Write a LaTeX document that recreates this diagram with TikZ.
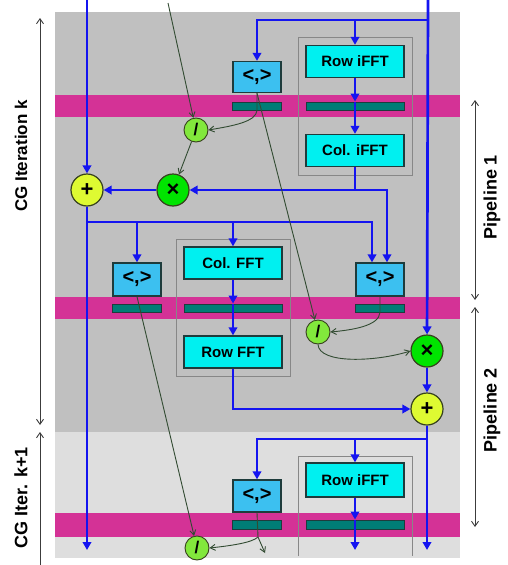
\documentclass[tikz,border=0pt]{standalone}
\usepackage{fontspec}
\setmainfont{Liberation Sans}
\usetikzlibrary{arrows.meta,calc}
\definecolor{bgdark}{RGB}{192,192,192}
\definecolor{bglight}{RGB}{222,222,222}
\definecolor{band}{RGB}{212,50,150}
\definecolor{fftfill}{RGB}{0,240,240}
\definecolor{dotfill}{RGB}{60,192,240}
\definecolor{barfill}{RGB}{0,125,118}
\definecolor{boxedge}{RGB}{30,60,60}
\definecolor{mulfill}{RGB}{0,228,0}
\definecolor{divfill}{RGB}{130,232,60}
\definecolor{addfill}{RGB}{222,250,50}
\definecolor{circedge}{RGB}{55,65,30}
\definecolor{flow}{RGB}{20,20,240}
\definecolor{thin}{RGB}{50,75,50}
\definecolor{dim}{RGB}{60,60,60}
\definecolor{encl}{RGB}{135,135,135}
\tikzset{
  fftbox/.style={rectangle,fill=fftfill,draw=boxedge,line width=1.3pt,minimum width=98pt,minimum height=32pt,inner sep=0pt,font=\bfseries\fontsize{15}{17}\selectfont},
  dotbox/.style={rectangle,fill=dotfill,draw=boxedge,line width=1.3pt,minimum width=48pt,minimum height=31pt,inner sep=0pt,font=\bfseries\fontsize{20}{20}\selectfont},
  regbar/.style={rectangle,fill=barfill,draw=boxedge,line width=1pt,minimum height=8pt,inner sep=0pt},
  opcirc/.style={circle,draw=circedge,line width=1.2pt,inner sep=0pt,minimum size=32pt,font=\bfseries\fontsize{22}{22}\selectfont},
  divcirc/.style={circle,draw=circedge,line width=0.9pt,fill=divfill,inner sep=0pt,minimum size=24pt,font=\bfseries\fontsize{17}{17}\selectfont},
  bl/.style={draw=flow,line width=2.7pt,-{Triangle[length=8pt,width=8.5pt]}},
  gr/.style={draw=thin,line width=0.9pt,-{Straight Barb[length=5pt,width=6pt]}},
  dimarrow/.style={draw=dim,line width=0.9pt},
  lab/.style={font=\bfseries\fontsize{16}{16}\selectfont,rotate=90},
  labbig/.style={font=\bfseries\fontsize{18}{18}\selectfont,rotate=90},
  enclbox/.style={draw=encl,line width=1pt}
}
\begin{document}
\begin{tikzpicture}[x=1pt,y=-1pt]
\useasboundingbox (0,0) rectangle (508,565);
% backgrounds
\fill[bgdark] (55,12) rectangle (460,432);
\fill[bglight] (55,432) rectangle (460,558);
\fill[band] (55,95) rectangle (460,117);
\fill[band] (55,297) rectangle (460,319);
\fill[band] (55,513) rectangle (460,537);
% enclosures
\draw[enclbox] (298,37) rectangle (412,175);
\draw[enclbox] (176,239) rectangle (290,376);
\draw[enclbox] (298,556) -- (298,456) -- (412,456) -- (412,556);
% nodes
\node[dotbox] (box1) at (257,77) {<,>};
\node[regbar,minimum width=49pt] (bar1) at (257,106) {};
\node[fftbox] (rifft1) at (355,61.5) {Row iFFT};
\node[regbar,minimum width=98pt] (bar2) at (355,106) {};
\node[fftbox] (cifft1) at (355,150.5) {Col. iFFT};
\node[divcirc] (div1) at (196,130) {/};
\node[opcirc,fill=mulfill] (mul1) at (173,190) {×};
\node[opcirc,fill=addfill] (add1) at (87,190) {+};
\node[dotbox,minimum height=33pt] (box3) at (137,279.5) {<,>};
\node[regbar,minimum width=49pt] (bar3) at (137,308) {};
\node[dotbox,minimum height=33pt] (box2) at (380,279.5) {<,>};
\node[regbar,minimum width=49pt] (bar4) at (380,308) {};
\node[fftbox] (cfft) at (233,263) {Col. FFT};
\node[regbar,minimum width=98pt] (bar5) at (233,308) {};
\node[fftbox] (rfft) at (233,352) {Row FFT};
\node[divcirc] (div2) at (318,332) {/};
\node[opcirc,fill=mulfill] (mul2) at (427,351) {×};
\node[opcirc,fill=addfill] (add2) at (427,409) {+};
\node[dotbox,minimum height=32pt] (box4) at (257,496) {<,>};
\node[regbar,minimum width=49pt,minimum height=9pt] (bar6) at (257,524.5) {};
\node[fftbox,minimum height=34pt] (rifft2) at (355,480) {Row iFFT};
\node[regbar,minimum width=98pt,minimum height=9pt] (bar7) at (355,524.5) {};
\node[divcirc] (div3) at (197,548) {/};
% free ends
\coordinate (topL) at (87,0);
\coordinate (botL) at (87,550);
\coordinate (topR) at (428,0);
\coordinate (botR) at (427,550);
\coordinate (botM) at (355,550);
\coordinate (j0) at (428,20);
\coordinate (j0b) at (355,20);
\coordinate (j1) at (387,190);
\coordinate (j2) at (87,222);
\coordinate (j2a) at (137,222);
\coordinate (j2b) at (233,222);
\coordinate (j3) at (427,439);
\coordinate (j3b) at (355,439);
\coordinate (t1) at (168,3);
\coordinate (t9) at (258,537);
\coordinate (t9e) at (265,553);
% blue flow
\draw[bl] (topL) -- (add1);
\draw[bl] (add1) -- (botL);
\draw[bl] (topR) -- (mul2);
\draw[bl] (mul2) -- (add2);
\draw[bl] (add2) -- (botR);
\draw[bl] (j0) -| (box1.north);
\draw[bl] (j0b) -- (rifft1.north);
\draw[bl] (rifft1.south) -- (bar2.north);
\draw[bl] (bar2.north) -- (cifft1.north);
\draw[bl] (cifft1.south) |- (mul1.east);
\draw[bl] (cifft1.south) |- (j1) -- (j1 |- box2.north);
\draw[bl] (mul1) -- (add1);
\draw[bl] (j2) -| ($(box2.north)+(-8,0)$);
\draw[bl] (j2a) -- (box3.north);
\draw[bl] (j2b) -- (cfft.north);
\draw[bl] (cfft.south) -- (bar5.north);
\draw[bl] (bar5.north) -- (rfft.north);
\draw[bl] (rfft.south) |- (add2.west);
\draw[bl] (j3) -| (box4.north);
\draw[bl] (j3b) -- (rifft2.north);
\draw[bl] (rifft2.south) -- (bar7.north);
\draw[bl] (bar7.north) -- (botM);
% thin control lines
\draw[gr] (t1) -- (div1);
\draw[gr] (box1.south) -- (div2);
\draw[gr] (box1.south) -- (bar1.south) .. controls (256,122) and (232,126) .. (div1.east);
\draw[gr] (div1) -- (mul1);
\draw[gr] (box3.south) -- (div3);
\draw[gr] (box2.south) -- (bar4.south) .. controls (379,326) and (352,330) .. (div2.east);
\draw[gr] (div2.south) .. controls (319,364) and (375,362) .. (mul2.west);
\draw[gr] (box4.south) -- (t9) .. controls (252,543) and (228,546) .. (div3.east);
\draw[gr] (t9) -- (t9e);
% dimension arrows and labels
\coordinate (a1) at (40,18);
\coordinate (a2) at (40,425);
\coordinate (a3) at (40,565);
\coordinate (a4) at (40,432);
\coordinate (p1) at (475,100);
\coordinate (p2) at (475,300);
\coordinate (p3) at (475,307);
\coordinate (p4) at (475,527);
\draw[dimarrow,{Straight Barb[length=5pt,width=7pt]}-{Straight Barb[length=5pt,width=7pt]}] (a1) -- (a2);
\draw[dimarrow,-{Straight Barb[length=5pt,width=7pt]}] (a3) -- (a4);
\draw[dimarrow,{Straight Barb[length=5pt,width=7pt]}-{Straight Barb[length=5pt,width=7pt]}] (p1) -- (p2);
\draw[dimarrow,{Straight Barb[length=5pt,width=7pt]}-{Straight Barb[length=5pt,width=7pt]}] (p3) -- (p4);
\node[lab,font=\bfseries\fontsize{17}{17}\selectfont] (lk) at (21,156) {CG Iteration k};
\node[labbig] (lk1) at (21,498) {CG Iter. k+1};
\node[labbig] (lp1) at (492,197) {Pipeline 1};
\node[labbig] (lp2) at (492,410) {Pipeline 2};
\end{tikzpicture}
\end{document}
